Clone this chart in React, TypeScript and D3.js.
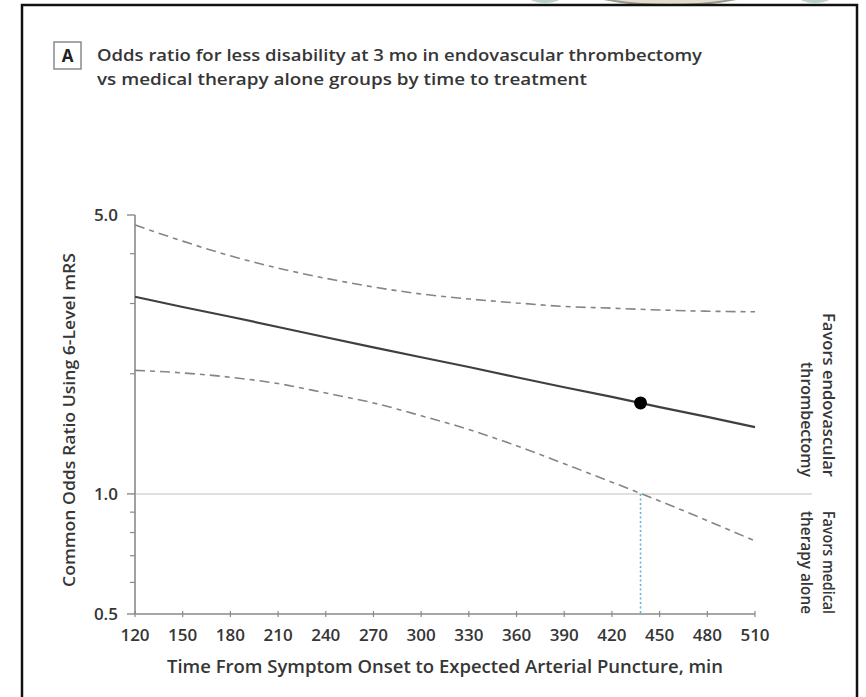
import React from "react";
import * as d3 from "d3";

// Time from symptom onset to expected arterial puncture (min)
const MINUTES = [120, 150, 180, 210, 240, 270, 300, 330, 360, 390, 420, 450, 480, 510];
// Common odds ratio (6-level mRS) point estimate and 95% CI bounds
const OR_ESTIMATE = [3.12, 2.94, 2.78, 2.62, 2.47, 2.33, 2.2, 2.08, 1.96, 1.85, 1.75, 1.65, 1.56, 1.47];
const OR_UPPER = [4.72, 4.3, 3.95, 3.68, 3.47, 3.3, 3.17, 3.08, 3.01, 2.95, 2.92, 2.89, 2.87, 2.86];
const OR_LOWER = [2.04, 2.01, 1.96, 1.89, 1.79, 1.69, 1.57, 1.45, 1.32, 1.19, 1.07, 0.96, 0.857, 0.762];

// Time at which the lower confidence bound reaches 1.0
const BENEFIT_LOST_MIN = 438;
const BENEFIT_LOST_OR = 1.69;

const Y_MAJOR = [0.5, 1.0, 5.0];
const Y_MAJOR_LABELS = ["0.5", "1.0", "5.0"];
const Y_MINOR = [0.6, 0.7, 0.8, 0.9, 2, 3, 4];
const X_TICKS = [120, 150, 180, 210, 240, 270, 300, 330, 360, 390, 420, 450, 480, 510];

const TITLE_LINES = [
  "Odds ratio for less disability at 3 mo in endovascular thrombectomy",
  "vs medical therapy alone groups by time to treatment",
];
const Y_TITLE = "Common Odds Ratio Using 6-Level mRS";
const X_TITLE = "Time From Symptom Onset to Expected Arterial Puncture, min";

const FONT = "'Open Sans', 'Liberation Sans', 'DejaVu Sans', sans-serif";
const TEXT = "#363636";

export default function App() {
  const W = 866;
  const H = 697;
  const x = d3.scaleLinear().domain([120, 510]).range([135, 755]);
  const y = d3.scaleLog().domain([0.5, 5]).range([614, 215]);

  const pts = (vals: number[]) => MINUTES.map((m, i) => [m, vals[i]] as [number, number]);
  const straight = d3
    .line<[number, number]>()
    .x((d) => x(d[0]))
    .y((d) => y(d[1]));
  const smooth = d3
    .line<[number, number]>()
    .x((d) => x(d[0]))
    .y((d) => y(d[1]))
    .curve(d3.curveMonotoneX);

  const axisColor = "#8a8a8a";
  const ciStyle = {
    fill: "none",
    stroke: "#858585",
    strokeWidth: 1.6,
    strokeDasharray: "10 5 5 5",
  };

  return (
    <div style={{ position: "absolute", left: 0, top: 0, width: W, height: H, background: "#fff" }}>
      <svg width={W} height={H} style={{ display: "block", fontFamily: FONT }}>
        <rect x={0} y={0} width={W} height={H} fill="#fff" />

        {/* strip of the neighbouring figure above the panel */}
        <g>
          <ellipse cx={670} cy={-30} rx={118} ry={35} fill="#e2dccb" stroke="#9a978c" strokeWidth={2} />
          <ellipse cx={545} cy={-5} rx={18} ry={8} fill="#b9cfc9" />
          <ellipse cx={815} cy={-5} rx={18} ry={8} fill="#b9cfc9" />
        </g>

        {/* panel frame */}
        <rect x={22} y={5} width={835} height={720} fill="none" stroke="#111" strokeWidth={2.5} />

        {/* panel letter and title */}
        <rect x={54} y={42} width={27} height={27} fill="none" stroke="#8a8a8a" strokeWidth={1.5} />
        <text x={67.5} y={61.5} textAnchor="middle" fontSize={17} fontWeight={700} fill="#222">
          A
        </text>
        <text x={97} y={61} fontSize={17} fontWeight={600} fill={TEXT} textLength={605} lengthAdjust="spacingAndGlyphs">
          {TITLE_LINES[0]}
        </text>
        <text x={97} y={84.5} fontSize={17} fontWeight={600} fill={TEXT} textLength={490} lengthAdjust="spacingAndGlyphs">
          {TITLE_LINES[1]}
        </text>

        {/* OR = 1 reference line */}
        <line x1={x(120)} x2={812} y1={y(1)} y2={y(1)} stroke="#d6d6d6" strokeWidth={1.5} />

        {/* time at which benefit is lost */}
        <line
          x1={x(BENEFIT_LOST_MIN)}
          x2={x(BENEFIT_LOST_MIN)}
          y1={y(1)}
          y2={y(0.5)}
          stroke="#62b2e2"
          strokeWidth={1.6}
          strokeDasharray="2 2.5"
        />

        {/* y axis */}
        <line x1={x(120)} x2={x(120)} y1={y(5)} y2={y(0.5)} stroke={axisColor} strokeWidth={1.6} />
        {Y_MAJOR.map((v, i) => (
          <g key={"ym" + v}>
            <line x1={x(120) - 8} x2={x(120)} y1={y(v)} y2={y(v)} stroke={axisColor} strokeWidth={1.4} />
            <text x={118} y={y(v) + 6} textAnchor="end" fontSize={17} fontWeight={600} fill={TEXT}>
              {Y_MAJOR_LABELS[i]}
            </text>
          </g>
        ))}
        {Y_MINOR.map((v) => (
          <line key={"yn" + v} x1={x(120) - 5} x2={x(120)} y1={y(v)} y2={y(v)} stroke={axisColor} strokeWidth={1.2} />
        ))}
        <text
          transform={`translate(75, 420) rotate(-90)`}
          textAnchor="middle"
          fontSize={17}
          fontWeight={600}
          fill={TEXT}
          textLength={334}
          lengthAdjust="spacingAndGlyphs"
        >
          {Y_TITLE}
        </text>

        {/* x axis */}
        <line x1={x(120)} x2={x(510)} y1={y(0.5)} y2={y(0.5)} stroke={axisColor} strokeWidth={1.6} />
        {X_TICKS.map((t) => (
          <g key={"x" + t}>
            <line x1={x(t)} x2={x(t)} y1={y(0.5) - 3} y2={y(0.5) + 3} stroke={axisColor} strokeWidth={1.2} />
            <text x={x(t)} y={641} textAnchor="middle" fontSize={17} fontWeight={600} fill={TEXT}>
              {t}
            </text>
          </g>
        ))}
        <text
          x={445}
          y={673}
          textAnchor="middle"
          fontSize={17.5}
          fontWeight={600}
          fill={TEXT}
          textLength={556}
          lengthAdjust="spacingAndGlyphs"
        >
          {X_TITLE}
        </text>

        {/* confidence bounds */}
        <path d={smooth(pts(OR_UPPER)) || ""} {...ciStyle} />
        <path d={smooth(pts(OR_LOWER)) || ""} {...ciStyle} />

        {/* point estimate */}
        <path d={straight(pts(OR_ESTIMATE)) || ""} fill="none" stroke="#3f3f3f" strokeWidth={2.2} />
        <circle cx={x(BENEFIT_LOST_MIN)} cy={y(BENEFIT_LOST_OR)} r={6.5} fill="#000" />

        {/* favour labels */}
        <g fontSize={16.5} fontWeight={600} fill={TEXT}>
          <text transform="translate(823, 477) rotate(90)" textAnchor="end" textLength={164} lengthAdjust="spacingAndGlyphs">
            Favors endovascular
          </text>
          <text transform="translate(801, 477) rotate(90)" textAnchor="end" textLength={115} lengthAdjust="spacingAndGlyphs">
            thrombectomy
          </text>
          <text transform="translate(823, 511) rotate(90)" textLength={103} lengthAdjust="spacingAndGlyphs">
            Favors medical
          </text>
          <text transform="translate(801, 511) rotate(90)" textLength={103} lengthAdjust="spacingAndGlyphs">
            therapy alone
          </text>
        </g>
      </svg>
    </div>
  );
}
